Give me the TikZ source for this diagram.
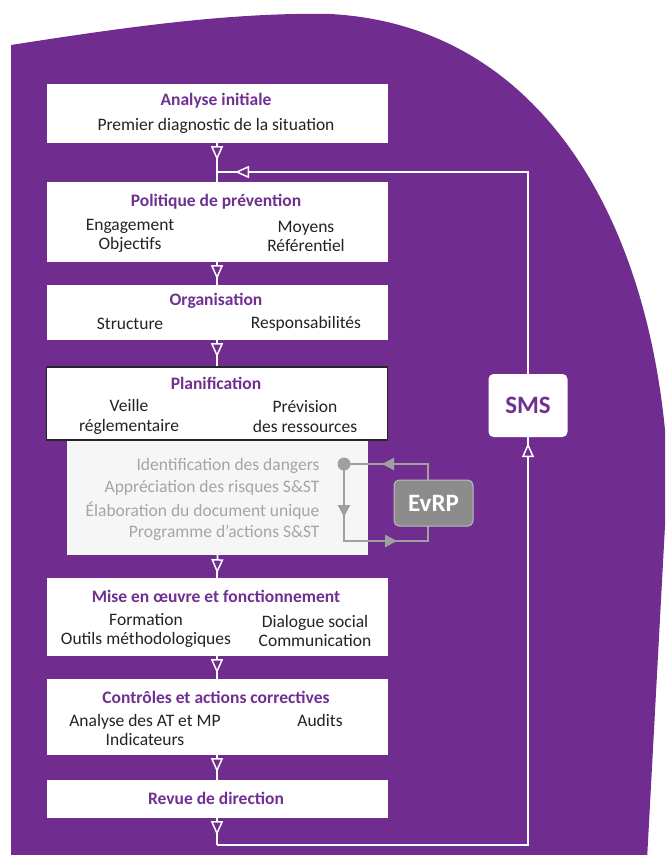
\documentclass[tikz,border=0pt]{standalone}
\usepackage{fontspec}
\setmainfont{Carlito}
\usetikzlibrary{arrows.meta,decorations.markings}
\definecolor{bgpurple}{RGB}{112,44,142}
\definecolor{ttlpurple}{RGB}{112,48,145}
\definecolor{bodytext}{RGB}{35,35,35}
\definecolor{graytext}{RGB}{165,165,165}
\definecolor{evalfill}{RGB}{246,246,246}
\definecolor{gline}{RGB}{160,160,160}
\definecolor{evrpfill}{RGB}{140,140,140}
\begin{document}
\begin{tikzpicture}[x=1pt,y=-1pt,
    box/.style={fill=white,minimum width=341pt,inner sep=0pt},
    ttl/.style={text=ttlpurple,font=\fontsize{17.5}{19}\selectfont\bfseries},
    txt/.style={text=bodytext,font=\fontsize{17.5}{19}\selectfont,align=center},
    gtxt/.style={text=graytext,font=\fontsize{17.5}{19}\selectfont,anchor=east},
    link/.style={draw=white,line width=1.8pt},
    flowtip/.style={decoration={markings,mark=at position #1 with {\arrow[white,line width=1.5pt]{Triangle[length=14pt,width=12pt,fill=bgpurple]}}},postaction={decorate}},
    gloop/.style={draw=gline,line width=2.2pt,decoration={markings,
        mark=at position 53pt with {\arrow{Triangle[length=12pt,width=12pt]}},
        mark=at position 130pt with {\arrow{Triangle[length=12pt,width=12pt]}},
        mark=at position 284pt with {\arrow{Triangle[length=12pt,width=12pt]}}},postaction={decorate}},
    tag/.style={rounded corners=5pt,inner sep=0pt,font=\fontsize{25}{28}\selectfont\bfseries}]
\useasboundingbox (0,0) rectangle (665,855);
\clip (0,0) rectangle (665,855);
\fill[bgpurple] (11,860) -- (11,45) .. controls (120,28) and (230,12) .. (330,14) .. controls (540,25) and (655,220) .. (668,470) -- (647,860) -- cycle;

\node[box,minimum height=59pt] (init) at (217,113.5) {};
\node[ttl] (init-t) at (216,101) {Analyse initiale};
\node[txt] (init-d) at (216,126) {Premier diagnostic de la situation};

\node[box,minimum height=80pt] (poli) at (217,222) {};
\node[ttl] (poli-t) at (216,202) {Politique de prévention};
\node[txt] (poli-l) at (130,236) {Engagement\\Objectifs};
\node[txt] (poli-r) at (306,236) {Moyens\\Référentiel};

\node[box,minimum height=55pt] (orga) at (217,312.5) {};
\node[ttl] (orga-t) at (216,301) {Organisation};
\node[txt] (orga-l) at (130,324) {Structure};
\node[txt] (orga-r) at (306,324) {Responsabilités};

\node[fill=evalfill,minimum width=301pt,minimum height=115pt,inner sep=0pt] (eval) at (217.5,497.5) {};
\node[box,minimum height=73pt,draw=black!85,line width=1.5pt] (plan) at (217,403.5) {};
\node[ttl] (plan-t) at (216,383) {Planification};
\node[txt,align=center] (plan-l) at (129,417) {Veille\\[1pt]réglementaire};
\node[txt] (plan-r) at (305,417) {Prévision\\[1pt]des ressources};
\node[gtxt] (eval-1) at (323,466) {Identification des dangers};
\node[gtxt] (eval-2) at (323,488) {Appréciation des risques S\&ST};
\node[gtxt] (eval-3) at (323,511) {Élaboration du document unique};
\node[gtxt] (eval-4) at (323,533) {Programme d’actions S\&ST};

\node[box,minimum height=78pt] (mise) at (217,617) {};
\node[ttl] (mise-t) at (216,596) {Mise en œuvre et fonctionnement};
\node[txt] (mise-l) at (146,630.5) {Formation\\Outils méthodologiques};
\node[txt] (mise-r) at (315,630.5) {Dialogue social\\Communication};

\node[box,minimum height=76pt] (ctrl) at (217,717) {};
\node[ttl] (ctrl-t) at (216,697) {Contrôles et actions correctives};
\node[txt] (ctrl-l) at (145,730) {Analyse des AT et MP\\Indicateurs};
\node[txt] (ctrl-r) at (320,720) {Audits};

\node[box,minimum height=38pt] (revue) at (217,799) {};
\node[ttl] (revue-t) at (216,798) {Revue de direction};

\node[tag,fill=white,text=ttlpurple,minimum width=79pt,minimum height=63pt] (sms) at (528,405.5) {SMS};

\coordinate (jn) at (217,172);
\coordinate (fbt) at (528,172);
\coordinate (fbl) at (217,845);
\coordinate (fbr) at (528,845);

\draw[link,flowtip=17pt] (init.south) -- (poli.north);
\draw[link,flowtip=17pt] (poli.south) -- (orga.north);
\draw[link,flowtip=17pt] (orga.south) -- (plan.north);
\draw[link,flowtip=18pt] (eval.south) -- (mise.north);
\draw[link,flowtip=17pt] (mise.south) -- (ctrl.north);
\draw[link,flowtip=17pt] (ctrl.south) -- (revue.north);
\draw[link,flowtip=17pt] (revue.south) -- (fbl);
\draw[link,line join=miter,flowtip=-6pt] (fbl) -- (fbr) -- (sms.south);
\draw[link,line join=miter,flowtip=-18pt] (sms.north) -- (fbt) -- (jn);

\node[circle,fill=gline,inner sep=0pt,minimum size=13pt] (dot) at (344,464) {};
\coordinate (gbl) at (344,541);
\coordinate (gbr) at (428,541);
\coordinate (gtr) at (428,464);
\draw[gloop] (dot.center) -- (gbl) -- (gbr) -- (gtr) -- (dot.center);
\node[tag,fill=evrpfill,draw=gline!70!white,line width=1pt,text=white,minimum width=79pt,minimum height=46pt] (evrp) at (433.5,503) {EvRP};
\end{tikzpicture}
\end{document}
